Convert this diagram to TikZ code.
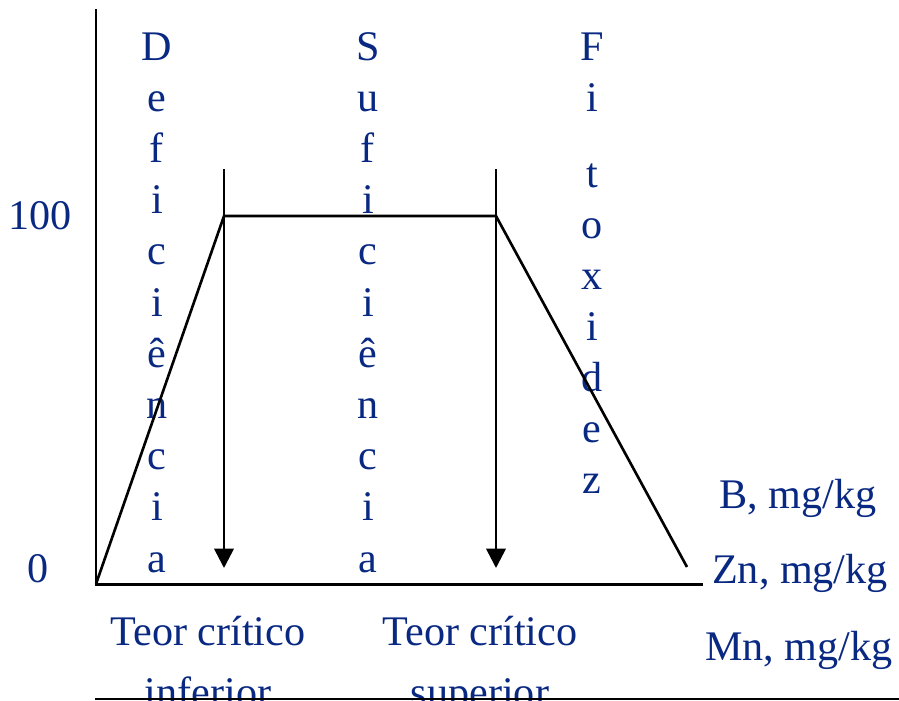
\documentclass[tikz,border=0pt]{standalone}
\usepackage{fontspec}
\setmainfont{Liberation Serif}
\usetikzlibrary{arrows.meta}
\definecolor{azul}{RGB}{8,40,130}

\begin{document}
\begin{tikzpicture}[x=0.02cm, y=-0.02cm,
            rotulo/.style={text=azul, font=\fontsize{24}{29}\selectfont, anchor=base, inner sep=0pt},
            eixo/.style={draw=black, line width=1.7pt},
            curva/.style={draw=black, line width=1.5pt, line join=miter},
            seta/.style={draw=black, line width=1.5pt, -{Triangle[width=11pt,length=11pt]}}]
            \useasboundingbox (0,0) rectangle (899,700);

            % pontos do grafico
            \coordinate (origem) at (96,584);
            \coordinate (topo) at (96,9);
            \coordinate (fim) at (703,584);
            \coordinate (inf) at (224,216);
            \coordinate (sup) at (496,216);
            \coordinate (queda) at (687,567);
            \coordinate (tci-a) at (224,169);
            \coordinate (tci-b) at (224,568);
            \coordinate (tcs-a) at (496,169);
            \coordinate (tcs-b) at (496,568);
            \coordinate (base-a) at (95,699);
            \coordinate (base-b) at (899,699);

            % colunas de letras
            \foreach \ch [count=\i from 0] in {D,e,f,i,c,i,ê,n,c,i,a}
                \node [rotulo] (def-\i) at (157,60+51.2*\i) {\ch};
            \foreach \ch [count=\i from 0] in {S,u,f,i,c,i,ê,n,c,i,a}
                \node [rotulo] (suf-\i) at (368,60+51.2*\i) {\ch};
            \node [rotulo] (fit-a) at (592,60) {F};
            \node [rotulo] (fit-b) at (592,111.2) {i};
            \foreach \ch [count=\i from 0] in {t,o,x,i,d,e,z}
                \node [rotulo] (fit-\i) at (592,187.5+51*\i) {\ch};

            % eixos e textos
            \node [rotulo] (cem) at (40,229) {100};
            \node [rotulo] (zero) at (38,582) {0};
            \node [rotulo] (boro) at (798,508) {B, mg/kg};
            \node [rotulo] (zinco) at (800,583) {Zn, mg/kg};
            \node [rotulo] (manganes) at (799,660) {Mn, mg/kg};
            \node [rotulo] (tci-t1) at (208,645) {Teor crítico};
            \node [rotulo] (tci-t2) at (208,706) {inferior};
            \node [rotulo] (tcs-t1) at (480,645) {Teor crítico};
            \node [rotulo] (tcs-t2) at (480,706) {superior};

            \path [eixo] (topo) -- (origem) -- (fim);
            \path [curva] (origem) -- (inf) -- (sup) -- (queda);
            \path [seta] (tci-a) -- (tci-b);
            \path [seta] (tcs-a) -- (tcs-b);
            \path [draw=black, line width=1.2pt] (base-a) -- (base-b);
        \end{tikzpicture}
\end{document}
